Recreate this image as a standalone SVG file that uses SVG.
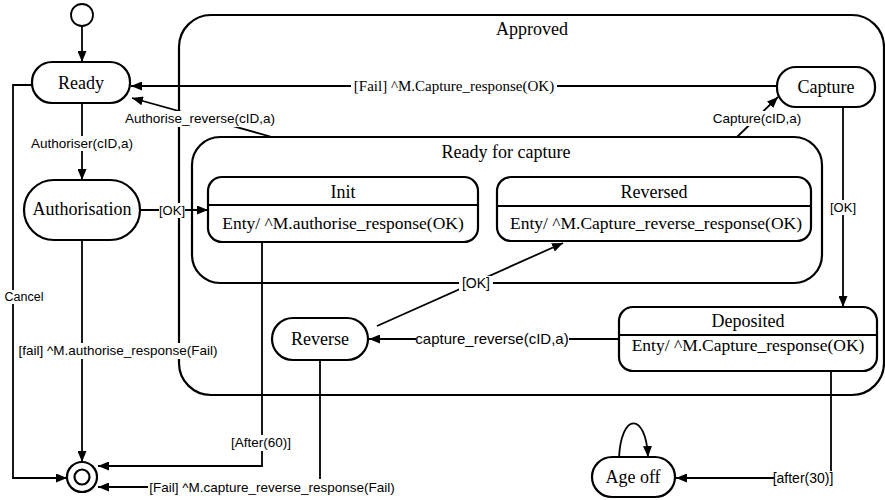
<svg xmlns="http://www.w3.org/2000/svg" width="885" height="500" viewBox="0 0 885 500">
<style>
.bx{fill:none;stroke:#000;stroke-width:2.2}
.st{fill:#fff;stroke:#000;stroke-width:2.2}
.ln{fill:none;stroke:#000;stroke-width:1.8}
.ar{marker-end:url(#ah)}
.nm{font-family:"Liberation Serif","Times New Roman",serif;font-size:18px;text-anchor:middle;fill:#000}
.en{font-family:"Liberation Serif","Times New Roman",serif;font-size:17.5px;text-anchor:middle;fill:#000}
.lb{font-family:"Liberation Sans",Arial,sans-serif;font-size:13.5px;text-anchor:middle;fill:#000}
.ls{font-family:"Liberation Serif","Times New Roman",serif;font-size:15px;text-anchor:middle;fill:#000}
.bg{fill:#fff;stroke:none}
</style>
<defs>
<marker id="ah" markerUnits="userSpaceOnUse" markerWidth="11" markerHeight="9" refX="11" refY="4.5" orient="auto">
<path d="M0,0 L11,4.5 L0,9 z" fill="#000"/>
</marker>
</defs>

<g id="approved">
<rect class="bx" x="179" y="15" width="705" height="380" rx="32"/>
<text class="nm" x="532" y="35">Approved</text>
</g>
<g id="ready-for-capture">
<rect class="bx" x="192" y="137" width="630" height="146" rx="28"/>
<text class="nm" x="506" y="158">Ready for capture</text>
</g>

<g id="connectors">
<line class="ln ar" x1="82" y1="26" x2="82" y2="62"/>
<line class="ln ar" x1="82" y1="103" x2="82" y2="180"/>
<line class="ln ar" x1="140" y1="210" x2="208" y2="210"/>
<line class="ln ar" x1="777" y1="86" x2="131" y2="86"/>
<line class="ln ar" x1="272" y1="137" x2="132" y2="98"/>
<line class="ln ar" x1="737" y1="137" x2="778" y2="97"/>
<line class="ln ar" x1="843" y1="107" x2="843" y2="307"/>
<line class="ln ar" x1="619" y1="339" x2="369" y2="339"/>
<line class="ln ar" x1="377" y1="326" x2="563" y2="243"/>
<polyline class="ln ar" points="262,242 262,466 98,466"/>
<polyline class="ln ar" points="33,85 13,85 13,478 67,478"/>
<line class="ln ar" x1="82" y1="240" x2="82" y2="462"/>
<polyline class="ln ar" points="320,360 320,487 98,487"/>
<polyline class="ln ar" points="831,371 831,478 676,478"/>
<path class="ln ar" d="M619,458 C621,412 646,412 648,457"/>

<rect class="bg" x="29" y="136" width="106" height="15"/>
<text class="lb" x="82" y="148">Authoriser(cID,a)</text>
<rect class="bg" x="159" y="203" width="26" height="15"/>
<text class="lb" x="172" y="215" style="font-size:13px">[OK]</text>
<rect class="bg" x="351" y="78" width="206" height="17"/>
<text class="ls" x="454" y="91">[Fail] ^M.Capture_response(OK)</text>
<rect class="bg" x="124" y="111" width="152" height="16"/>
<text class="lb" x="200" y="123">Authorise_reverse(cID,a)</text>
<rect class="bg" x="712" y="111" width="91" height="15"/>
<text class="lb" x="757" y="123">Capture(cID,a)</text>
<rect class="bg" x="830" y="200" width="26" height="15"/>
<text class="lb" x="843" y="212" style="font-size:13px">[OK]</text>
<rect class="bg" x="416" y="331" width="153" height="16"/>
<text class="lb" x="492" y="344" style="font-size:15px">capture_reverse(cID,a)</text>
<rect class="bg" x="459" y="276" width="34" height="16"/>
<text class="lb" x="476" y="288" style="font-size:14px">[OK]</text>
<rect class="bg" x="229" y="435" width="64" height="16"/>
<text class="lb" x="261" y="447">[After(60)]</text>
<rect class="bg" x="4" y="290" width="40" height="14"/>
<text class="lb" x="24" y="301" style="font-size:12.5px">Cancel</text>
<rect class="bg" x="15" y="343" width="207" height="16"/>
<text class="lb" x="118" y="355">[fail] ^M.authorise_response(Fail)</text>
<rect class="bg" x="148" y="479" width="249" height="16"/>
<text class="lb" x="272" y="492">[Fail] ^M.capture_reverse_response(Fail)</text>
<rect class="bg" x="774" y="471" width="59" height="15"/>
<text class="lb" x="803" y="483" style="font-size:14px">[after(30)]</text>
</g>

<g id="initial">
<circle cx="82" cy="15" r="11" fill="#fff" stroke="#000" stroke-width="1.8"/>
</g>
<g id="final">
<circle cx="82" cy="477" r="15" fill="#fff" stroke="#000" stroke-width="2.2"/>
<circle cx="82" cy="477" r="7.5" fill="#fff" stroke="#000" stroke-width="2.2"/>
</g>
<g id="ready">
<rect class="st" x="32" y="62" width="98" height="41" rx="20"/>
<text class="nm" x="81" y="89">Ready</text>
</g>
<g id="authorisation">
<rect class="st" x="24" y="180" width="116" height="60" rx="30"/>
<text class="nm" x="82" y="215">Authorisation</text>
</g>
<g id="init">
<rect class="st" x="208" y="177" width="270" height="65" rx="14"/>
<line class="bx" x1="208" y1="205" x2="478" y2="205"/>
<text class="nm" x="343" y="198">Init</text>
<text class="en" x="343" y="229">Enty/ ^M.authorise_response(OK)</text>
</g>
<g id="reversed">
<rect class="st" x="497" y="177" width="314" height="64" rx="14"/>
<line class="bx" x1="497" y1="206" x2="811" y2="206"/>
<text class="nm" x="654" y="198">Reversed</text>
<text class="en" x="656" y="229">Enty/ ^M.Capture_reverse_response(OK)</text>
</g>
<g id="capture">
<rect class="st" x="777" y="67" width="98" height="40" rx="19"/>
<text class="nm" x="826" y="93">Capture</text>
</g>
<g id="deposited">
<rect class="st" x="619" y="307" width="258" height="64" rx="14"/>
<line class="bx" x1="619" y1="335" x2="877" y2="335"/>
<text class="nm" x="748" y="327">Deposited</text>
<text class="en" x="748" y="351">Enty/ ^M.Capture_response(OK)</text>
</g>
<g id="reverse">
<rect class="st" x="272" y="318" width="96" height="42" rx="21"/>
<text class="nm" x="320" y="345">Reverse</text>
</g>
<g id="age-off">
<rect class="st" x="592" y="457" width="83" height="40" rx="20"/>
<text class="nm" x="633" y="483">Age off</text>
</g>
</svg>
